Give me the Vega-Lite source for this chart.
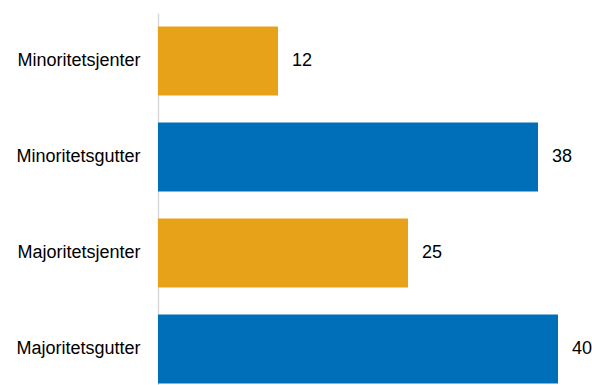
{
  "$schema": "https://vega.github.io/schema/vega-lite/v6.json",
  "autosize": {"type": "none"},
  "padding": {"left": 158, "top": 13, "right": 0, "bottom": 0},
  "width": 434,
  "height": 384,
  "background": "white",
  "config": {"view": {"stroke": null}, "font": "Liberation Sans"},
  "data": {"values": [
    {"group": "Minoritetsjenter", "value": 12, "sex": "jenter"},
    {"group": "Minoritetsgutter", "value": 38, "sex": "gutter"},
    {"group": "Majoritetsjenter", "value": 25, "sex": "jenter"},
    {"group": "Majoritetsgutter", "value": 40, "sex": "gutter"}
  ]},
  "encoding": {
    "y": {"field": "group", "type": "nominal", "sort": null,
      "scale": {"paddingInner": 0.28, "paddingOuter": 0.14},
      "axis": {"title": null, "ticks": false, "labelFontSize": 18, "labelColor": "#000000", "labelPadding": 18, "domainColor": "#d9d9d9", "domainWidth": 1.5, "labelFont": "Liberation Sans"}},
    "x": {"field": "value", "type": "quantitative", "scale": {"domain": [0, 43.4], "nice": false}, "axis": null}
  },
  "layer": [
    {"mark": {"type": "bar"},
     "encoding": {"color": {"field": "sex", "type": "nominal", "scale": {"domain": ["jenter", "gutter"], "range": ["#E8A219", "#006FBA"]}, "legend": null}}},
    {"mark": {"type": "text", "align": "left", "dx": 14, "fontSize": 18, "color": "#000000", "font": "Liberation Sans"},
     "encoding": {"text": {"field": "value", "type": "quantitative"}}}
  ]
}
